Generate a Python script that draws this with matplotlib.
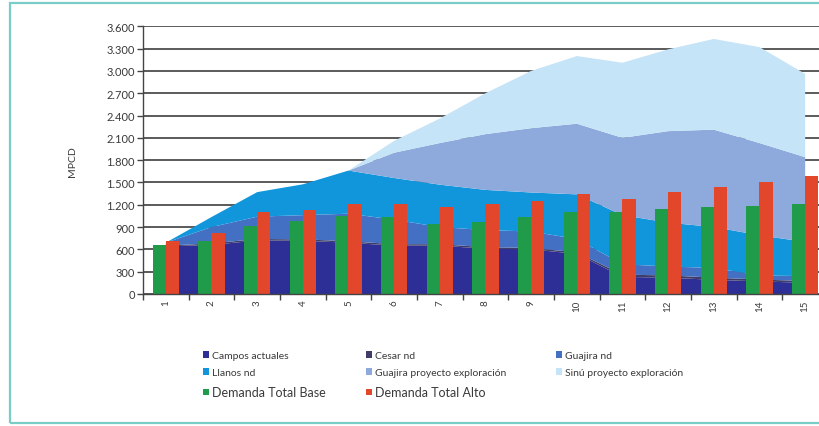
import matplotlib
matplotlib.use("Agg")
import matplotlib.pyplot as plt
from matplotlib.patches import Rectangle, Patch
import numpy as np

# ---------------- data ----------------
categories = ["1", "2", "3", "4", "5", "6", "7", "8", "9", "10", "11", "12", "13", "14", "15"]
campos_actuales = [640, 660, 720, 715, 690, 650, 650, 610, 600, 540, 230, 220, 190, 170, 150]
cesar_nd = [10, 20, 20, 20, 20, 20, 20, 20, 20, 20, 30, 30, 30, 25, 25]
guajira_nd = [40, 220, 300, 325, 370, 330, 230, 230, 220, 180, 140, 120, 130, 55, 65]
llanos_nd = [0, 135, 330, 415, 580, 560, 570, 540, 525, 600, 660, 590, 550, 540, 460]
guajira_proy = [0, 0, 0, 0, 0, 340, 560, 750, 865, 950, 1040, 1230, 1310, 1240, 1140]
sinu_proy = [0, 0, 0, 0, 0, 160, 330, 550, 770, 910, 1010, 1100, 1220, 1290, 1120]
demanda_base = [660, 710, 915, 985, 1045, 1035, 940, 965, 1035, 1100, 1100, 1140, 1170, 1190, 1210]
demanda_alto = [713, 815, 1100, 1130, 1210, 1210, 1170, 1210, 1255, 1345, 1280, 1370, 1440, 1505, 1590]

area_labels = ["Campos actuales", "Cesar nd", "Guajira nd", "Llanos nd",
               "Guajira proyecto exploración", "Sinú proyecto exploración"]
bar_labels = ["Demanda Total Base", "Demanda Total Alto"]
y_ticks = [0, 300, 600, 900, 1200, 1500, 1800, 2100, 2400, 2700, 3000, 3300, 3600]
y_tick_labels = ["0", "300", "600", "900", "1.200", "1.500", "1.800", "2.100",
                 "2.400", "2.700", "3.000", "3.300", "3.600"]
y_label = "MPCD"

# ---------------- style ----------------
area_colors = ["#2d2f96", "#3f3d68", "#4470c4", "#1196dc", "#8eaadc", "#c6e4f8"]
bar_colors = ["#1f9b4a", "#e2462b"]
text_color = "#3a3a3a"
plt.rcParams["font.family"] = ["Lato", "DejaVu Sans"]

W, H = 820, 427
fig = plt.figure(figsize=(W / 100, H / 100), dpi=100)
fig.patch.set_facecolor("white")

ax_left, ax_right, ax_top, ax_bottom = 143, 828, 27.3, 295
ax = fig.add_axes([ax_left / W, 1 - ax_bottom / H, (ax_right - ax_left) / W, (ax_bottom - ax_top) / H])
ax.set_facecolor("white")

x = np.arange(1, len(categories) + 1)
ax.stackplot(x, campos_actuales, cesar_nd, guajira_nd, llanos_nd, guajira_proy, sinu_proy,
             colors=area_colors, labels=area_labels, linewidth=0, zorder=1)

bw = 0.285
ax.bar(x - bw / 2, demanda_base, width=bw, color=bar_colors[0], label=bar_labels[0], zorder=3, linewidth=0)
ax.bar(x + bw / 2, demanda_alto, width=bw, color=bar_colors[1], label=bar_labels[1], zorder=3, linewidth=0)

ax.set_xlim(0.5, len(categories) + 0.5)
ax.set_ylim(0, 3600)
ax.set_yticks(y_ticks)
ax.set_yticklabels(y_tick_labels, fontsize=8, color=text_color)
ax.set_xticks(x)
ax.set_xticklabels(categories, rotation=90, fontsize=7, color=text_color)
ax.set_xticks(np.arange(0.5, len(categories) + 1, 1.0), minor=True)
ax.tick_params(axis="x", which="major", length=0, pad=4)
ax.tick_params(axis="x", which="minor", length=4, direction="out", color="#444444", width=1)
ax.tick_params(axis="y", length=4, direction="out", color="#444444", width=1, pad=2)

ax.set_axisbelow(True)
ax.yaxis.grid(True, color="#5a5a5a", linewidth=1.4, zorder=0)
ax.xaxis.grid(False)
for s in ["top", "right"]:
    ax.spines[s].set_visible(False)
for s in ["left", "bottom"]:
    ax.spines[s].set_color("#444444")
    ax.spines[s].set_linewidth(1.0)
    ax.spines[s].set_zorder(4)

fig.text(73 / W, 1 - 162 / H, y_label, rotation=90, ha="center", va="center",
         fontsize=7.5, color=text_color)

# ---------------- legend (3 columns) ----------------
handles_area = [Patch(facecolor=c, edgecolor="none") for c in area_colors]
handles_bar = [Patch(facecolor=c, edgecolor="none") for c in bar_colors]
columns = [
    ([handles_area[0], handles_area[3], handles_bar[0]], [area_labels[0], area_labels[3], bar_labels[0]], 203),
    ([handles_area[1], handles_area[4], handles_bar[1]], [area_labels[1], area_labels[4], bar_labels[1]], 366),
    ([handles_area[2], handles_area[5]], [area_labels[2], area_labels[5]], 556),
]
for hs, ls, px in columns:
    leg = fig.legend(hs, ls, loc="upper left", bbox_to_anchor=(px / W, 1 - 352 / H),
                     frameon=False, fontsize=7.5, handlelength=0.6, handleheight=0.6,
                     handletextpad=0.25, labelspacing=0.8, borderpad=0, borderaxespad=0)
    for t in leg.get_texts():
        t.set_color(text_color)
        if t.get_text().startswith("Demanda"):
            t.set_fontsize(9)

# ---------------- border frame ----------------
fig.patches.append(Rectangle((10 / W, 3 / H), (W + 20) / W, (H - 7) / H, transform=fig.transFigure,
                             fill=False, edgecolor="#78cdc6", linewidth=1.6, zorder=10))

fig.savefig("out.png", dpi=100, facecolor="white")
